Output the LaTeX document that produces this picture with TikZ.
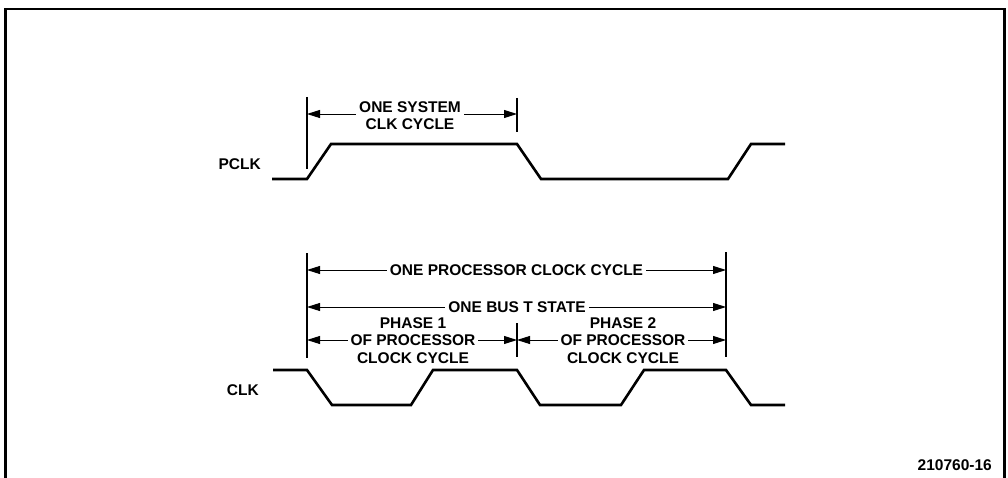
\documentclass[tikz,border=0pt]{standalone}
\usepackage{fontspec}
\setmainfont{Liberation Sans}
\usetikzlibrary{arrows.meta}
\tikzset{
  wave/.style={line width=2.6pt, line join=miter},
  frameline/.style={line width=2.6pt},
  tickline/.style={line width=1.1pt},
  dimarrow/.style={line width=0.9pt, {Triangle[length=13pt,width=8pt]}-{Triangle[length=13pt,width=8pt]}},
  lbl/.style={font=\bfseries\fontsize{15.5}{17}\selectfont, inner sep=0pt},
  dimtext/.style={font=\bfseries\fontsize{15.5}{17.2}\selectfont, fill=white, inner xsep=3pt, inner ysep=1pt, align=center}
}
\begin{document}
\begin{tikzpicture}[x=1pt,y=-1pt]
\useasboundingbox (0,0) rectangle (1008,478);
% frame
\coordinate (fbl) at (5.5,478);
\coordinate (ftl) at (5.5,9);
\coordinate (ftr) at (1004.5,9);
\coordinate (fbr) at (1004.5,478);
\draw[frameline] (fbl) -- (ftl) -- (ftr) -- (fbr);

% signal labels
\node[lbl, anchor=east] (pclk) at (261,164) {PCLK};
\node[lbl, anchor=east] (clk) at (259,390) {CLK};
\node[lbl, anchor=east] (fig) at (992,465) {210760-16};

% PCLK waveform
\draw[wave] (272,179) -- (307,179) -- (331,144) -- (517,144) -- (541,179)
  -- (728,179) -- (751,144) -- (785,144);
% CLK waveform
\draw[wave] (273,370) -- (307,370) -- (332,405) -- (411,405) -- (433,370)
  -- (517,370) -- (540,405) -- (621,405) -- (644,370) -- (726,370)
  -- (751,405) -- (785,405);

% tick coordinates
\coordinate (sA) at (307,97);  \coordinate (sAb) at (307,169);
\coordinate (sB) at (517,98);  \coordinate (sBb) at (517,132);
\coordinate (pA) at (307,253); \coordinate (pAb) at (307,358);
\coordinate (pM) at (517,323); \coordinate (pMb) at (517,357);
\coordinate (pB) at (726,252); \coordinate (pBb) at (726,357);

% arrow end coordinates
\coordinate (a1l) at (307,114); \coordinate (a1r) at (517,114);
\coordinate (a2l) at (307,270); \coordinate (a2r) at (726,270);
\coordinate (a3l) at (307,307); \coordinate (a3r) at (726,307);
\coordinate (a4l) at (307,340); \coordinate (a4r) at (517,340);
\coordinate (a5l) at (517,340); \coordinate (a5r) at (726,340);

% dimension arrows
\draw[dimarrow] (a1l) -- (a1r);
\draw[dimarrow] (a2l) -- (a2r);
\draw[dimarrow] (a3l) -- (a3r);
\draw[dimarrow] (a4l) -- (a4r);
\draw[dimarrow] (a5l) -- (a5r);

% dimension texts
\node[dimtext] (t1) at (410,116) {ONE SYSTEM\\CLK CYCLE};
\node[dimtext, inner ysep=0pt] (t2) at (516.5,270) {ONE PROCESSOR CLOCK CYCLE};
\node[dimtext, inner ysep=0pt] (t3) at (517,307) {ONE BUS T STATE};
\node[dimtext] (t4) at (413,340.5) {PHASE 1\\OF PROCESSOR\\CLOCK CYCLE};
\node[dimtext] (t5) at (623,340.5) {PHASE 2\\OF PROCESSOR\\CLOCK CYCLE};

% ticks
\draw[tickline] (sA) -- (sAb);
\draw[tickline] (sB) -- (sBb);
\draw[tickline] (pA) -- (pAb);
\draw[tickline] (pM) -- (pMb);
\draw[tickline] (pB) -- (pBb);
\end{tikzpicture}
\end{document}
